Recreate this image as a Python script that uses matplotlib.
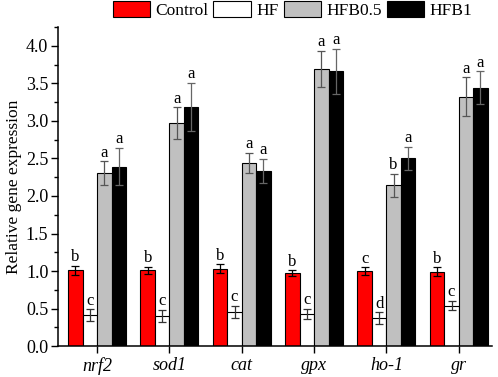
import numpy as np
import matplotlib
matplotlib.use("Agg")
import matplotlib.pyplot as plt
from matplotlib.ticker import MultipleLocator

plt.rcParams['font.family'] = ['Liberation Serif', 'DejaVu Serif']

genes = ["nrf2", "sod1", "cat", "gpx", "ho-1", "gr"]
groups = ["Control", "HF", "HFB0.5", "HFB1"]

control = [1.01, 1.01, 1.03, 0.97, 1.00, 0.99]
control_err = [0.06, 0.05, 0.06, 0.04, 0.05, 0.06]
hf = [0.41, 0.40, 0.46, 0.43, 0.37, 0.54]
hf_err = [0.08, 0.08, 0.08, 0.07, 0.08, 0.06]
hfb05 = [2.30, 2.97, 2.44, 3.69, 2.14, 3.32]
hfb05_err = [0.16, 0.21, 0.13, 0.24, 0.15, 0.26]
hfb1 = [2.39, 3.19, 2.33, 3.66, 2.50, 3.44]
hfb1_err = [0.25, 0.32, 0.16, 0.30, 0.15, 0.22]

letters = [
    ["b", "b", "b", "b", "c", "b"],
    ["c", "c", "c", "c", "d", "c"],
    ["a", "a", "a", "a", "b", "a"],
    ["a", "a", "a", "a", "a", "a"],
]

colors = ["#ff0000", "#ffffff", "#c0c0c0", "#000000"]
ecolors = ["#000000", "#333333", "#555555", "#666666"]

values = [control, hf, hfb05, hfb1]
errors = [control_err, hf_err, hfb05_err, hfb1_err]

fig = plt.figure(figsize=(4.98, 3.77), dpi=100)
ax = fig.add_axes([0.1165, 0.082, 0.8715, 0.846])

x = np.arange(len(genes))
w = 0.2
offsets = [-0.3, -0.1, 0.1, 0.3]
for i in range(4):
    ax.bar(x + offsets[i], values[i], w, color=colors[i], edgecolor="black",
           linewidth=0.8, label=groups[i], zorder=2)
    ax.errorbar(x + offsets[i], values[i], yerr=errors[i], fmt="none",
                ecolor=ecolors[i], elinewidth=0.9, capsize=3, capthick=0.9, zorder=3)
    for j in range(len(genes)):
        ax.text(x[j] + offsets[i], values[i][j] + errors[i][j] + 0.01, letters[i][j],
                ha="center", va="bottom", fontsize=12)

ax.set_xlim(-0.54, 5.46)
ax.set_ylim(0, 4.25)
ax.set_xticks(x)
ax.set_xticklabels(genes, fontstyle="italic", fontsize=13)
ax.yaxis.set_major_locator(MultipleLocator(0.5))
ax.yaxis.set_minor_locator(MultipleLocator(0.25))
ax.yaxis.set_major_formatter(matplotlib.ticker.FormatStrFormatter("%.1f"))
ax.tick_params(axis="y", labelsize=13, length=5, width=1, pad=2)
ax.tick_params(axis="y", which="minor", length=3, width=1)
ax.tick_params(axis="x", length=5, width=1, pad=3)
ax.set_ylabel("Relative gene expression", fontsize=12.5, labelpad=3)
ax.spines["top"].set_visible(False)
ax.spines["right"].set_visible(False)
ax.spines["left"].set_linewidth(1.1)
ax.spines["bottom"].set_linewidth(1.1)

fig.legend(loc="upper center", bbox_to_anchor=(0.587, 1.025), ncol=4, frameon=False,
           fontsize=12.5, handlelength=2.15, handleheight=1.0, handletextpad=0.3,
           columnspacing=0.3, borderaxespad=0.2)

fig.savefig("out.png", dpi=100)
